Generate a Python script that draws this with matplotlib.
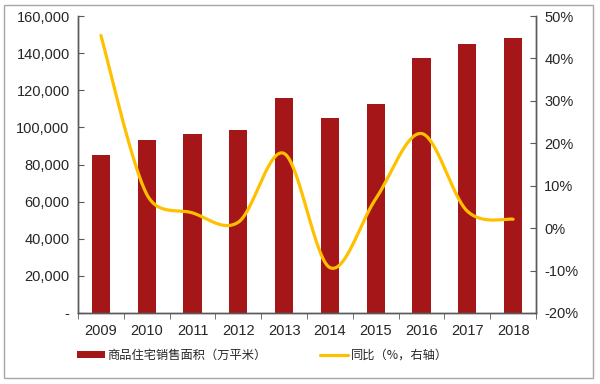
import matplotlib
matplotlib.use("Agg")
import matplotlib.pyplot as plt
import numpy as np
from matplotlib.patches import Rectangle
from matplotlib.ticker import FuncFormatter, FixedLocator

plt.rcParams['font.family'] = ['Liberation Sans', 'Noto Sans CJK SC', 'DejaVu Sans']

years = ['2009', '2010', '2011', '2012', '2013', '2014', '2015', '2016', '2017', '2018']
area = [85294, 93377, 96528, 98468, 115723, 105188, 112412, 137540, 144789, 147929]
yoy = [45.4, 8.0, 3.6, 1.4, 17.6, -9.3, 6.9, 22.3, 4.0, 2.1]
bar_label = '商品住宅销售面积（万平米）'
line_label = '同比（%，右轴）'

bar_color = '#A51618'
line_color = '#FFC000'
spine_color = '#595959'


def excel_smooth(P, n=40):
    """Excel-style smoothed line in display space (Bezier, limited tangents)."""
    P = np.asarray(P, float)
    out = []
    for i in range(len(P) - 1):
        p0 = P[i - 1] if i > 0 else P[i]
        p1 = P[i]
        p2 = P[i + 1]
        p3 = P[i + 2] if i + 2 < len(P) else P[i + 1]
        d12 = np.hypot(*(p2 - p1))
        d02 = np.hypot(*(p2 - p0))
        d13 = np.hypot(*(p3 - p1))
        f0 = 1 / 6 if d02 == 0 else min(1 / 6, d12 / (2 * d02))
        f3 = 1 / 6 if d13 == 0 else min(1 / 6, d12 / (2 * d13))
        c1 = p1 + f0 * (p2 - p0)
        c2 = p2 - f3 * (p3 - p1)
        t = np.linspace(0, 1, n)[:, None]
        seg = ((1 - t) ** 3) * p1 + 3 * ((1 - t) ** 2) * t * c1 + 3 * (1 - t) * t ** 2 * c2 + t ** 3 * p2
        if i > 0:
            seg = seg[1:]
        out.append(seg)
    return np.vstack(out)


fig = plt.figure(figsize=(6.0, 3.84), dpi=100)
ax = fig.add_axes([78 / 600, 1 - 313 / 384, (536 - 78) / 600, (313 - 16) / 384])
ax2 = ax.twinx()

x = np.arange(len(years))
bars = ax.bar(x, area, width=0.40, color=bar_color, zorder=2, label=bar_label)
ax.set_xlim(-0.5, len(years) - 0.5)
ax.set_ylim(0, 160000)
ax.set_yticks(np.arange(0, 160001, 20000))
ax.yaxis.set_major_formatter(FuncFormatter(lambda v, p: '-' if v == 0 else f'{v:,.0f}'))
ax.set_xticks(x)
ax.set_xticklabels(years)
ax.xaxis.set_minor_locator(FixedLocator(np.arange(-0.5, len(years), 1.0)))

ax2.set_ylim(-20, 50)
ax2.set_yticks(np.arange(-20, 51, 10))
ax2.yaxis.set_major_formatter(FuncFormatter(lambda v, p: f'{v:.0f}%'))

# smooth the line in display space, then map back to data coordinates
pts_disp = ax2.transData.transform(np.column_stack([x, yoy]))
curve = ax2.transData.inverted().transform(excel_smooth(pts_disp))
line, = ax2.plot(curve[:, 0], curve[:, 1], color=line_color, lw=2.3,
                 solid_capstyle='round', zorder=3, label=line_label)

for a in (ax, ax2):
    a.spines['top'].set_visible(False)
    for s in ('left', 'right', 'bottom'):
        a.spines[s].set_color(spine_color)
        a.spines[s].set_linewidth(1.0)

ax.tick_params(axis='y', direction='in', length=4, color=spine_color, labelsize=10.5, pad=6, labelcolor='#262626')
ax.tick_params(axis='x', which='major', length=0, labelsize=10.5, pad=8, labelcolor='#262626')
ax.tick_params(axis='x', which='minor', direction='out', length=4, color=spine_color)
ax2.tick_params(axis='y', direction='in', length=4, color=spine_color, labelsize=10.5, pad=6, labelcolor='#262626')

leg = fig.legend([bars, line], [bar_label, line_label], ncol=2, loc='center',
                 bbox_to_anchor=(0.437, 0.075), frameon=False,
                 columnspacing=4.4, handlelength=2.3, handletextpad=0.2,
                 handleheight=0.6,
                 prop={'family': ['Noto Sans CJK SC', 'DejaVu Sans'], 'size': 8.8})
for t in leg.get_texts():
    t.set_color('#262626')

fig.patches.append(Rectangle((4 / 600, 1 - 378 / 384), 589 / 600, 373 / 384,
                             transform=fig.transFigure, fill=False,
                             edgecolor='#A6A6A6', lw=1.0))

fig.savefig('out.png', dpi=100)
